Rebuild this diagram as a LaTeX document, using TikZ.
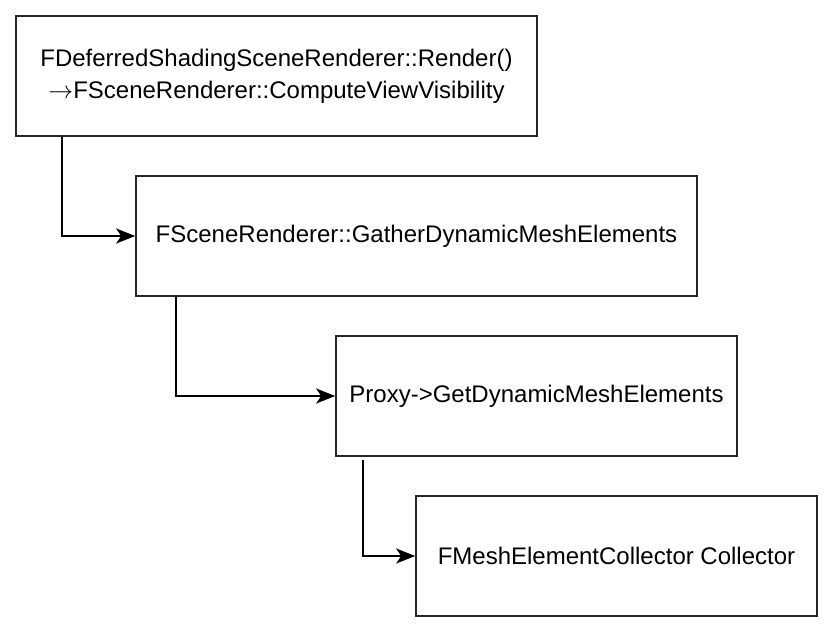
\documentclass[tikz,border=0pt]{standalone}
\usepackage{fontspec}
\setmainfont{Liberation Sans}
\usetikzlibrary{arrows.meta}

\begin{document}
\begin{tikzpicture}[x=1pt, y=-1pt,
    callbox/.style={draw=black!85, line width=1.6pt, rectangle, inner sep=0pt,
        minimum height=120pt, align=center, font=\fontsize{24}{32}\selectfont},
    flow/.style={line width=1.6pt, -{Stealth[length=19pt, width=15pt, inset=5pt]}}]
    % Define canvas
    \useasboundingbox (0,0) rectangle (834,634);

    % Draw call boxes
    \node[callbox, minimum width=521pt] (render) at (276.5,76)
        {FDeferredShadingSceneRenderer::Render()\\$\rightarrow$FSceneRenderer::ComputeViewVisibility};
    \node[callbox, minimum width=561pt] (gather) at (416.5,236)
        {FSceneRenderer::GatherDynamicMeshElements};
    \node[callbox, minimum width=401pt] (proxy) at (536.5,396)
        {Proxy->GetDynamicMeshElements};
    \node[callbox, minimum width=401pt] (collector) at (616.5,556)
        {FMeshElementCollector Collector};

    % Draw call edges
    \draw[flow] ([xshift=47pt]render.south west) |- (gather.west);
    \draw[flow] ([xshift=41pt]gather.south west) |- (proxy.west);
    \draw[flow] ([xshift=28pt,yshift=-3pt]proxy.south west) |- (collector.west);

\end{tikzpicture}
\end{document}
